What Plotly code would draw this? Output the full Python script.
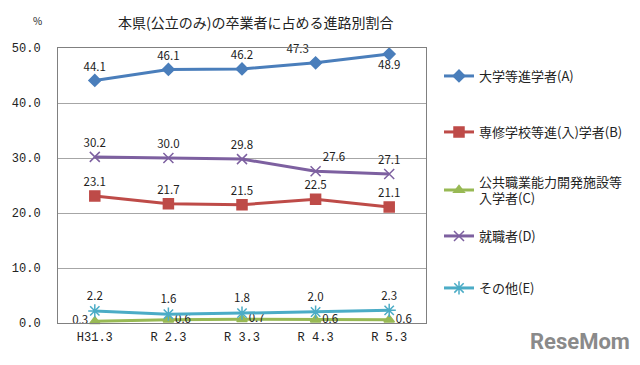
import plotly.graph_objects as go

categories = ["H31.3", "R 2.3", "R 3.3", "R 4.3", "R 5.3"]
series_names = [
    "大学等進学者(A)",
    "専修学校等進(入)学者(B)",
    "公共職業能力開発施設等<br>入学者(C)",
    "就職者(D)",
    "その他(E)",
]
univ = [44.1, 46.1, 46.2, 47.3, 48.9]
senshu = [23.1, 21.7, 21.5, 22.5, 21.1]
kokyo = [0.3, 0.6, 0.7, 0.6, 0.6]
shushoku = [30.2, 30.0, 29.8, 27.6, 27.1]
sonota = [2.2, 1.6, 1.8, 2.0, 2.3]
y_ticks = [0, 10, 20, 30, 40, 50]

series = [univ, senshu, kokyo, shushoku, sonota]
colors = ["#4A7EBB", "#BE4B48", "#98B954", "#7D60A0", "#4BACC6"]
symbols = ["diamond", "square", "triangle-up", "x-thin-open", "asterisk-open"]
msizes = [9, 10, 9, 10, 11]
textpos = [
    ["top center", "top center", "top center", "top left", "bottom center"],
    ["top center"] * 5,
    ["middle left"] + ["middle right"] * 4,
    ["top center"] * 3 + ["top right", "top center"],
    ["top center"] * 5,
]

# page offset (browser body margin) compensation
OFF = 8
W, H = 640 - OFF, 365 - OFF
L, R, T, B = 58 - OFF, 426 - OFF, 48 - OFF, 323 - OFF
pw, ph = R - L, B - T


def px(X):
    return (X - OFF - L) / pw


def py(Y):
    return (B - (Y - OFF)) / ph


legend_y = [76, 132, 190, 236, 288]
legend_names = ["legend", "legend2", "legend3", "legend4", "legend5"]

fig = go.Figure()
for i, vals in enumerate(series):
    fig.add_trace(go.Scatter(
        x=categories, y=vals, name=series_names[i],
        mode="lines+markers+text",
        text=[f"{v:.1f}" for v in vals],
        textposition=textpos[i],
        textfont=dict(size=11.5, color="#222222", family="Noto Sans CJK JP"),
        line=dict(color=colors[i], width=3),
        marker=dict(symbol=symbols[i], size=msizes[i], color=colors[i],
                    line=dict(color=colors[i], width=1.5)),
        legend=legend_names[i],
        cliponaxis=False,
    ))

layout_legends = {}
for i, ln in enumerate(legend_names):
    layout_legends[ln] = dict(
        x=px(439), xanchor="left", y=py(legend_y[i]), yanchor="middle",
        font=dict(size=13, family="Noto Sans CJK JP", color="#222222"),
        itemwidth=30, bgcolor="rgba(0,0,0,0)",
    )

fig.update_layout(
    width=W, height=H,
    margin=dict(l=L, r=W - R, t=T, b=H - B, autoexpand=False),
    paper_bgcolor="white", plot_bgcolor="white",
    font=dict(family="Noto Sans CJK JP", color="#222222"),
    showlegend=True,
    annotations=[
        dict(text="本県(公立のみ)の卒業者に占める進路別割合",
             x=px(255), y=py(22), xanchor="center", yanchor="middle",
             xref="paper", yref="paper", showarrow=False,
             font=dict(size=14, family="Noto Sans CJK JP", color="#222222")),
        dict(text="%", x=px(37), y=py(20), xanchor="center", yanchor="middle",
             xref="paper", yref="paper", showarrow=False,
             font=dict(size=10, color="#222222")),
        dict(text="<b>ReseMom</b>", x=px(580), y=py(341),
             xanchor="center", yanchor="middle",
             xref="paper", yref="paper", showarrow=False,
             font=dict(size=22, family="Roboto", color="#8A8A8A")),
    ],
    xaxis=dict(
        type="category", range=[-0.5, 4.5],
        showline=True, linecolor="#808080", linewidth=1, mirror=True,
        showgrid=False, ticks="", ticklabelstandoff=3,
        tickfont=dict(family="Liberation Mono", size=12, color="#222222"),
    ),
    yaxis=dict(
        range=[0, 50], tickvals=y_ticks,
        ticktext=[f"{v:.1f}" for v in y_ticks],
        showline=True, linecolor="#808080", linewidth=1, mirror=True,
        showgrid=True, gridcolor="#A6A6A6", gridwidth=1,
        zeroline=False, ticks="", ticklabelstandoff=14,
        tickfont=dict(family="Liberation Mono", size=12, color="#222222"),
    ),
    **layout_legends,
)

fig.write_html("out.html")
